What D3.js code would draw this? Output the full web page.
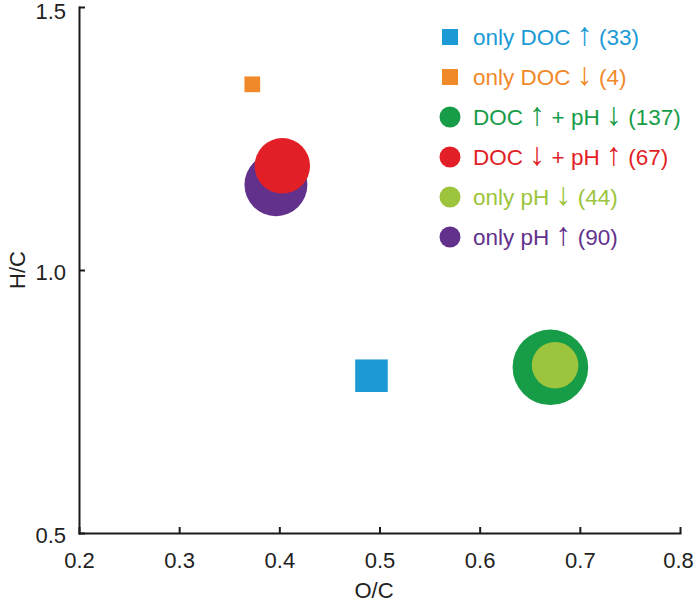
<!DOCTYPE html>
<html>
<head>
<meta charset="utf-8">
<script src="https://cdn.jsdelivr.net/npm/d3@7"></script>
<style>
  body { margin: 0; background: #fff; }
  svg { display: block; font-family: "Liberation Sans", Arial, sans-serif; }
  .axis path, .axis line { stroke: #1a1a1a; stroke-width: 2px; }
  .axis text { font-size: 22px; fill: #222; }
</style>
</head>
<body>
<svg id="chart"></svg>
<script>
// groups
var groups = ['only DOC \u2191', 'only DOC \u2193', 'DOC \u2191 + pH \u2193',
  'DOC \u2193 + pH \u2191', 'only pH \u2193', 'only pH \u2191'];
var counts = [33, 4, 137, 67, 44, 90];
var ocValues = [0.492, 0.373, 0.6706, 0.403, 0.6753, 0.3966];
var hcValues = [0.799, 1.353, 0.815, 1.198, 0.819, 1.162];
var markers = ['square', 'square', 'circle', 'circle', 'circle', 'circle'];
var colors = ['#1b9ad6', '#f0892a', '#179c47', '#e21f26', '#9cc43c', '#62318c'];

var xTicks = [0.2, 0.3, 0.4, 0.5, 0.6, 0.7, 0.8];
var yTicks = [0.5, 1.0, 1.5];

var width = 694, height = 603;
var margin = {top: 7, left: 79, right: 14, bottom: 70};
var innerW = width - margin.left - margin.right;
var innerH = height - margin.top - margin.bottom;

var svg = d3.select('#chart').attr('width', width).attr('height', height);
var g = svg.append('g')
  .attr('transform', 'translate(' + margin.left + ',' + margin.top + ')');

var x = d3.scaleLinear().domain([0.2, 0.8]).range([0, innerW]);
var y = d3.scaleLinear().domain([0.5, 1.5]).range([innerH, 0]);
/* marker size follows the group size */
var r = d3.scaleSqrt().domain([0, 137]).range([4.3, 37.8]);

var xAxis = d3.axisBottom(x).tickValues(xTicks).tickFormat(d3.format('.1f'))
  .tickSizeInner(-6).tickSizeOuter(0).tickPadding(19);
var yAxis = d3.axisLeft(y).tickValues(yTicks).tickFormat(d3.format('.1f'))
  .tickSizeInner(-6).tickSizeOuter(0).tickPadding(13);

g.append('g').attr('class', 'x axis')
  .attr('transform', 'translate(0,' + innerH + ')')
  .call(xAxis)
  .selectAll('text').attr('dy', '0.71em')
  .attr('dx', function(d) { return d === 0.8 ? -2 : 0; });

g.append('g').attr('class', 'y axis')
  .call(yAxis)
  .selectAll('text')
  .attr('dy', function(d) { return d === 1.5 ? '0.5em' : '0.45em'; });

svg.selectAll('.domain').attr('stroke-linecap', 'square');

/* axis titles */
svg.append('text')
  .attr('x', 374).attr('y', 598)
  .attr('text-anchor', 'middle')
  .style('font-size', '22px').style('fill', '#222')
  .text('O/C');
svg.append('text')
  .attr('transform', 'translate(25,270) rotate(-90)')
  .attr('text-anchor', 'middle')
  .style('font-size', '22px').style('fill', '#222')
  .text('H/C');

/* points, biggest first so small ones stay on top */
var data = groups.map(function(name, i) {
  return {name: name, n: counts[i], oc: ocValues[i], hc: hcValues[i],
    marker: markers[i], color: colors[i]};
});
var order = data.slice().sort(function(a, b) { return b.n - a.n; });

var pts = g.append('g');
order.forEach(function(d) {
  if(d.marker === 'circle') {
    pts.append('circle')
      .attr('cx', x(d.oc)).attr('cy', y(d.hc))
      .attr('r', r(d.n))
      .attr('fill', d.color);
  } else {
    var s = r(d.n) * 1.57;
    pts.append('rect')
      .attr('x', x(d.oc) - s / 2).attr('y', y(d.hc) - s / 2)
      .attr('width', s).attr('height', s)
      .attr('fill', d.color);
  }
});

/* legend */
var legend = svg.append('g').attr('transform', 'translate(450,37)');
var rows = legend.selectAll('.row').data(data).enter().append('g')
  .attr('class', 'row')
  .attr('transform', function(d, i) { return 'translate(0,' + (i * 40) + ')'; });
rows.each(function(d) {
  var row = d3.select(this);
  if(d.marker === 'circle') {
    row.append('circle').attr('r', 10.5).attr('fill', d.color);
  } else {
    row.append('rect').attr('x', -8).attr('y', -8)
      .attr('width', 16).attr('height', 16).attr('fill', d.color);
  }
  var t = row.append('text')
    .attr('x', 23).attr('y', 8)
    .style('font-size', '22.5px')
    .style('fill', d.color);
  /* the arrows are drawn a bit larger, as in the original */
  var parts = (d.name + ' (' + d.n + ')').split(/([\u2191\u2193])/);
  parts.forEach(function(p) {
    if(!p) { return; }
    var sp = t.append('tspan').text(p);
    if(p === '\u2191' || p === '\u2193') {
      sp.style('font-size', '32px');
    }
  });
});
</script>
</body>
</html>
